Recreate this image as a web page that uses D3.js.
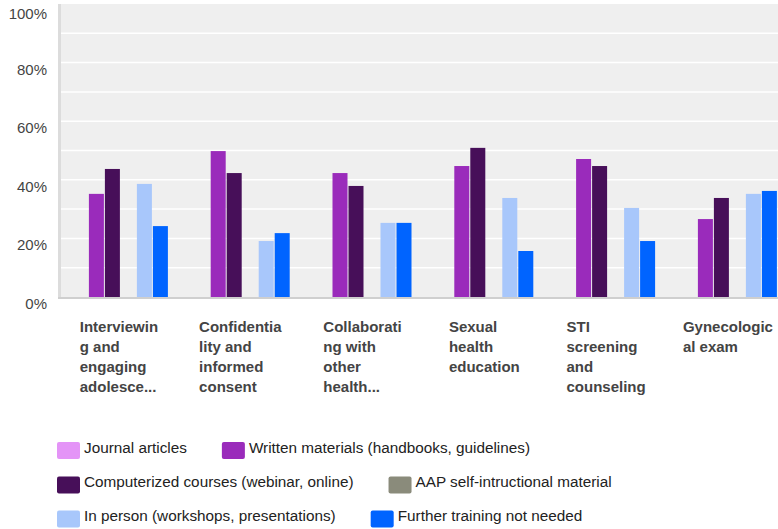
<!DOCTYPE html>
<html>
<head>
<meta charset="utf-8">
<script src="https://cdn.jsdelivr.net/npm/d3@7"></script>
<style>
  html, body { margin: 0; padding: 0; background: #ffffff; }
  svg { display: block; font-family: Arial, "Liberation Sans", sans-serif; }
</style>
</head>
<body>
<svg id="chart" width="778" height="529"></svg>
<script>
// ---- data ----
const categories = ["Interviewing and engaging adolescents", "Confidentiality and informed consent", "Collaborating with other health professionals", "Sexual health education", "STI screening and counseling", "Gynecological exam"];
const categoryLabelLines = [
  ["Interviewin", "g and", "engaging", "adolesce..."],
  ["Confidentia", "lity and", "informed", "consent"],
  ["Collaborati", "ng with", "other", "health..."],
  ["Sexual", "health", "education"],
  ["STI", "screening", "and", "counseling"],
  ["Gynecologic", "al exam"]
];
const seriesNames = ["Journal articles", "Written materials (handbooks, guidelines)", "Computerized courses (webinar, online)", "AAP self-intructional material", "In person (workshops, presentations)", "Further training not needed"];
const seriesColors = ["#e494f7", "#9a2bbb", "#470f59", "#8a8b7b", "#a8c7fb", "#0064ff"];
const journalArticles    = [0, 0, 0, 0, 0, 0];
const writtenMaterials   = [35.2, 49.8, 42.3, 44.7, 47.1, 26.6];
const computerizedCourses= [43.7, 42.3, 37.9, 50.9, 44.7, 33.8];
const aapMaterial        = [0, 0, 0, 0, 0, 0];
const inPerson           = [38.6, 19.1, 25.3, 33.8, 30.4, 35.2];
const furtherNotNeeded   = [24.2, 21.8, 25.3, 15.7, 19.1, 36.2];
const seriesValues = [journalArticles, writtenMaterials, computerizedCourses, aapMaterial, inPerson, furtherNotNeeded];
const yTicks = [0, 20, 40, 60, 80, 100];
const gridTicks = [10, 20, 30, 40, 50, 60, 70, 80, 90];

// ---- layout ----
const svg = d3.select("#chart");
const plotLeft = 60, plotTop = 4, plotBottom = 297, bandW = 121.8;
const plotRight = plotLeft + bandW * categories.length;

const x0 = d3.scaleBand().domain(categories).range([plotLeft, plotRight]).padding(0);
const x1 = d3.scaleBand().domain(seriesNames).range([12.9, 12.9 + 16 * seriesNames.length]).padding(0);
const y = d3.scaleLinear().domain([0, 100]).range([plotBottom, plotTop]);

// background
svg.append("rect").attr("x", plotLeft).attr("y", plotTop)
  .attr("width", 778 - plotLeft).attr("height", plotBottom - plotTop)
  .attr("fill", "#efefef");

// gridlines
svg.append("g").selectAll("line").data(gridTicks).join("line")
  .attr("x1", plotLeft).attr("x2", 778)
  .attr("y1", d => y(d)).attr("y2", d => y(d))
  .attr("stroke", "#ffffff").attr("stroke-width", 1.5);

// left axis line
svg.append("rect").attr("x", 58).attr("y", plotTop).attr("width", 3).attr("height", plotBottom - plotTop + 1)
  .attr("fill", "#dcdcdc");

// bars
const groups = svg.append("g").selectAll("g").data(categories).join("g")
  .attr("transform", d => `translate(${x0(d)},0)`);
groups.selectAll("rect")
  .data((c, ci) => seriesNames.map((s, si) => ({ s, si, v: seriesValues[si][ci] })))
  .join("rect")
  .attr("x", d => x1(d.s))
  .attr("y", d => y(d.v))
  .attr("width", x1.bandwidth() - 1)
  .attr("height", d => y(0) - y(d.v))
  .attr("fill", d => seriesColors[d.si]);

// baseline
svg.append("rect").attr("x", 58).attr("y", plotBottom).attr("width", 778 - 58).attr("height", 2)
  .attr("fill", "#cfcfcf");

// y tick labels
svg.append("g").selectAll("text").data(yTicks).join("text")
  .attr("x", 47)
  .attr("y", d => Math.max(y(d) + 12, 19))
  .attr("text-anchor", "end")
  .attr("font-size", 15)
  .attr("fill", "#444")
  .text(d => d + "%");

// x category labels
categories.forEach((c, i) => {
  const g = svg.append("g");
  const t = g.append("text").attr("font-size", 15).attr("font-weight", "bold").attr("fill", "#444");
  categoryLabelLines[i].forEach((line, li) => {
    t.append("tspan").attr("x", 0).attr("y", 332 + li * 20).text(line);
  });
  const w = t.node().getBBox().width;
  const cx = x0(c) + x0.bandwidth() / 2;
  g.attr("transform", `translate(${cx - w / 2 - 2},0)`);
});

// legend
const legendRows = [[0, 1], [2, 3], [4, 5]];
const rowTop = [442, 476.5, 510.5];
legendRows.forEach((row, ri) => {
  let xPos = 57;
  row.forEach(si => {
    svg.append("rect").attr("x", xPos).attr("y", rowTop[ri]).attr("width", 23).attr("height", 17)
      .attr("rx", 2).attr("fill", seriesColors[si]);
    const t = svg.append("text").attr("x", xPos + 27).attr("y", rowTop[ri] + 10.5)
      .attr("font-size", 15.3).attr("fill", "#222")
      .text(seriesNames[si]);
    xPos = xPos + 27 + t.node().getComputedTextLength() + 35;
  });
});
</script>
</body>
</html>
